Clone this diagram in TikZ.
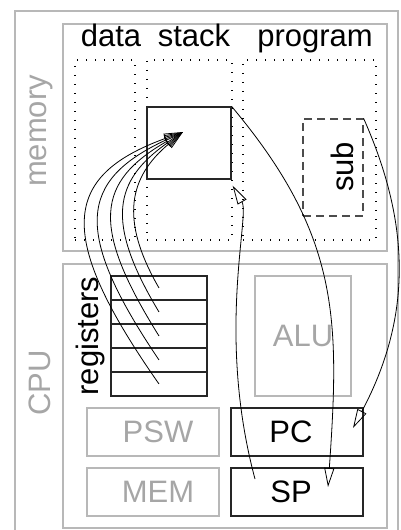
\documentclass[tikz,border=0pt]{standalone}
\usepackage{fontspec}
\setmainfont{Liberation Sans}
\usetikzlibrary{arrows.meta}
\newcommand\biglabel{\fontsize{31}{37}\selectfont}

\begin{document}
\begin{tikzpicture}[x=1pt, y=1pt,
    frame/.style={draw=black!28, line width=1.1pt, inner sep=0pt},
    area/.style={draw, dash pattern=on 1.3pt off 7.7pt, line width=1.3pt, inner sep=0pt},
    greytext/.style={text=black!35, font=\biglabel, inner sep=0pt},
    blacktext/.style={font=\biglabel, inner sep=0pt},
    unit/.style={draw=black!28, line width=1.1pt, text=black!35, font=\biglabel, minimum width=132pt, minimum height=48pt, inner sep=0pt},
    cell/.style={draw=black!85, line width=1.2pt, font=\biglabel, minimum width=132pt, minimum height=48pt, inner sep=0pt},
    reg/.style={draw=black!85, line width=1.2pt, minimum width=96pt, minimum height=24pt, inner sep=0pt},
    link/.style={-{Triangle[open, length=19pt, width=10pt]}, line width=0.8pt}
]
    \useasboundingbox (0,0) rectangle (401,530);
    \draw[frame] (15,-20) rectangle (398,519);
    \node[frame, minimum width=324pt, minimum height=227pt] (memory) at (225,392.5) {};
    \node[frame, minimum width=324pt, minimum height=264pt] (cpu) at (225,134) {};
    \node[greytext, rotate=90] (memlabel) at (41,399) {memory};
    \node[greytext, rotate=90] (cpulabel) at (40,147) {CPU};

    \node[area, minimum width=60pt, minimum height=180pt] (datacol) at (105,380) {};
    \node[area, minimum width=85pt, minimum height=180pt] (stackcol) at (189.5,380) {};
    \node[area, minimum width=133pt, minimum height=180pt] (progcol) at (309.5,380) {};
    \node[blacktext, anchor=base] (datalabel) at (111,483) {data};
    \node[blacktext, anchor=base] (stacklabel) at (194,483) {stack};
    \node[blacktext, anchor=base] (proglabel) at (315,483) {program};

    \node[reg, minimum width=84pt, minimum height=72pt] (stack) at (189,387) {};
    \node[draw=black!70, line width=1.2pt, dash pattern=on 8pt off 5pt, minimum width=60pt, minimum height=97pt] (sub) at (333,362.5) {};
    \node[blacktext, rotate=90] (sublabel) at (342,363) {sub};

    \foreach \i/\y in {1/242,2/218,3/194,4/170,5/146}
        \node[reg] (r\i) at (159,\y) {};
    \node[blacktext, rotate=90] (reglabel) at (90,194) {registers};

    \node[unit, minimum width=96pt, minimum height=120pt] (alu) at (303,194) {ALU};
    \node[unit] (psw) at (153,98) {\hspace*{10pt}PSW};
    \node[unit] (mem) at (153,38) {\hspace*{10pt}MEM};
    \node[cell] (pc) at (297,98) {PC\hspace*{12pt}};
    \node[cell] (sp) at (297,38) {SP\hspace*{12pt}};

    \foreach \i/\a/\b/\c/\d in {1/120/80/220/70, 2/121/105/215/85, 3/122/130/210/100, 4/124/155/205/115, 5/125/180/200/130}
        \draw[link] (r\i.center) .. controls +(\a:\b) and +(\c:\d) .. ([shift={(-6,11)}]stack.center);
    \draw[link] (stack.north east) to[out=-50, in=86, looseness=1.1] ([shift={(31,5)}]sp.center);
    \draw[link] ([shift={(-42,13)}]sp.center) .. controls +(105:150) and +(-60:35) .. ([shift={(1,-6)}]stack.south east);
    \draw[link] (sub.north east) to[out=-66, in=62] ([shift={(56,4)}]pc.center);
\end{tikzpicture}
\end{document}
